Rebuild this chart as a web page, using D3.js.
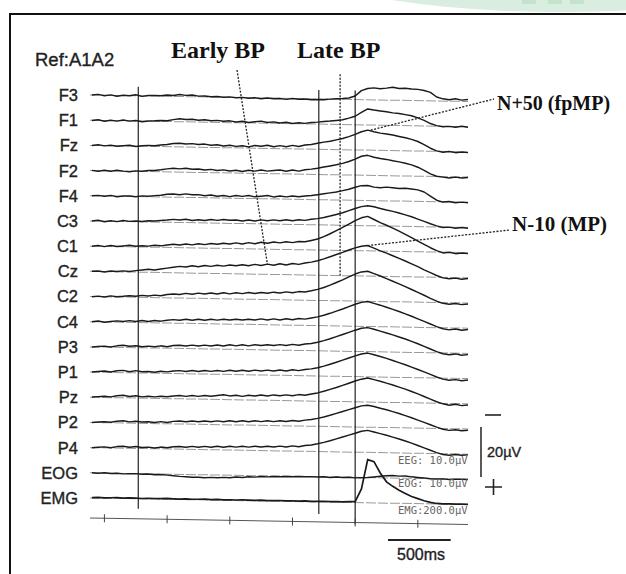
<!DOCTYPE html>
<html>
<head>
<meta charset="utf-8">
<title>MRCP</title>
<script src="https://cdn.jsdelivr.net/npm/d3@7"></script>
<style>
  body { margin: 0; background: #fff; }
  svg { display: block; }
  .lbl { font-family: "Liberation Sans", Arial, sans-serif; fill: #222; stroke: #222; stroke-width: 0.35; }
  .ann { font-family: "Liberation Serif", "Times New Roman", serif; font-weight: bold; fill: #111; }
  .gain { font-family: "DejaVu Sans Mono", monospace; fill: #666; }
</style>
</head>
<body>
<svg id="chart" width="626" height="574"></svg>
<script>
// channel order, top to bottom
var channels = ["F3","F1","Fz","F2","F4","C3","C1","Cz","C2","C4","P3","P1","Pz","P2","P4","EOG","EMG"];

// samples every 50 ms, -2100 .. 900 ms (0 = EMG onset)
var times = d3.range(-2100, 901, 50);

// EEG in uV, negative = up
var F3 = [0.0,-0.3,0.2,-0.2,0.3,-0.1,0.0,-0.4,0.2,-0.2,
  -0.3,-0.2,-0.5,-0.4,-0.8,-0.5,-0.7,-0.3,-0.4,-0.1,
  -0.3,0.0,-0.2,0.1,-0.1,0.2,0.0,0.3,0.0,0.2,
  0.1,0.4,0.0,0.3,0.1,0.4,0.2,0.3,0.0,-0.2,
  -0.3,-0.6,-1.4,-3.6,-4.5,-4.8,-4.5,-4.8,-5.2,-4.7,
  -4.9,-4.6,-4.5,-4.1,-3.4,-1.6,-0.9,-0.6,-1.0,-0.5,-0.8];
var F1 = [0.1,-0.2,0.3,-0.1,0.2,-0.3,0.1,-0.2,0.3,-0.1,
  -0.2,-0.4,-0.3,-0.8,-1.2,-0.9,-1.1,-0.7,-1.0,-0.6,
  -0.8,-0.5,-0.7,-0.3,-0.6,-0.2,-0.5,-0.8,-0.3,-0.6,
  -0.2,-0.5,-0.1,-0.4,-0.2,-0.6,-0.8,-1.1,-1.3,-1.6,
  -1.9,-2.6,-3.4,-5.0,-6.4,-6.0,-5.7,-5.4,-5.0,-4.8,
  -4.4,-4.0,-3.2,-2.2,-1.0,-0.2,0.2,0.0,0.3,-0.1,0.2];
var Fz = [0.0,-0.3,0.1,-0.2,0.2,-0.1,-0.3,0.1,-0.2,-0.4,
  -0.3,-0.6,-0.9,-1.3,-1.5,-1.2,-1.4,-1.1,-1.3,-0.9,
  -1.1,-0.7,-1.0,-0.6,-0.9,-0.5,-1.1,-0.8,-1.3,-0.7,
  -1.2,-0.8,-1.4,-1.0,-1.6,-1.9,-2.4,-2.9,-3.3,-3.9,
  -4.5,-5.3,-6.2,-7.3,-8.0,-7.4,-6.9,-6.6,-6.2,-5.7,
  -5.2,-4.6,-3.8,-2.6,-1.2,-0.2,0.3,0.0,0.4,0.1,0.3];
var F2 = [-0.1,0.2,-0.2,0.1,-0.3,0.0,0.2,-0.2,-0.1,-0.4,
  -0.5,-0.8,-1.2,-1.5,-1.3,-1.6,-1.2,-1.4,-1.0,-1.3,
  -0.9,-1.2,-0.8,-1.1,-0.7,-1.2,-0.9,-1.4,-1.0,-1.3,
  -1.5,-1.1,-1.6,-1.2,-1.8,-2.1,-2.5,-3.0,-3.5,-4.0,
  -4.6,-5.4,-6.4,-7.6,-8.0,-7.3,-6.8,-6.5,-6.0,-5.6,
  -5.1,-4.5,-3.6,-2.4,-1.0,-0.1,0.2,0.5,0.1,0.4,0.2];
var F4 = [0.0,-0.2,0.1,-0.3,0.2,-0.1,-0.2,0.1,-0.3,-0.2,
  -0.5,-0.7,-1.1,-1.3,-1.0,-1.4,-1.1,-1.2,-0.8,-1.1,
  -0.7,-1.0,-0.6,-1.1,-0.8,-1.2,-0.7,-1.0,-1.3,-0.8,
  -1.2,-0.9,-1.3,-1.0,-1.4,-1.6,-2.0,-2.4,-2.8,-3.2,
  -3.8,-4.4,-5.2,-5.9,-6.0,-5.4,-5.2,-5.5,-5.3,-5.0,
  -5.2,-4.9,-4.6,-3.8,-2.2,-0.6,0.1,-0.2,0.3,0.0,0.2];
var C3 = [0.0,-0.3,0.2,-0.2,0.1,-0.4,-0.1,-0.3,-0.1,-0.5,
  -0.4,-0.7,-0.9,-1.2,-1.0,-1.3,-0.9,-1.2,-1.0,-1.4,
  -1.1,-1.5,-1.2,-1.4,-1.0,-1.5,-1.1,-1.6,-1.3,-1.7,
  -1.4,-1.8,-1.5,-1.9,-1.7,-2.2,-2.5,-3.0,-3.6,-4.3,
  -5.0,-5.9,-6.8,-7.6,-8.0,-7.6,-7.0,-6.4,-5.9,-5.3,
  -4.6,-3.9,-3.0,-2.1,-1.2,-0.4,0.2,0.0,0.4,0.1,0.3];
var C1 = [0.0,-0.3,0.1,-0.4,0.0,-0.3,-0.6,-0.3,-0.5,-0.4,
  -0.8,-0.6,-1.0,-1.3,-1.1,-1.5,-1.2,-1.7,-1.4,-1.9,
  -1.6,-2.1,-1.8,-2.3,-1.9,-2.5,-2.1,-2.7,-2.4,-2.9,
  -2.6,-3.1,-2.8,-3.3,-3.2,-3.8,-4.4,-5.4,-6.6,-7.9,
  -9.2,-10.6,-12.0,-13.2,-13.8,-12.6,-11.4,-10.4,-9.3,-8.1,
  -6.9,-5.6,-4.3,-3.0,-1.7,-0.6,0.3,0.0,0.5,0.2,0.4];
var Cz = [0.0,-0.2,0.2,-0.3,-0.1,-0.4,-0.2,-0.6,-0.9,-1.2,
  -1.0,-1.4,-1.8,-2.2,-2.6,-2.4,-2.9,-2.6,-3.1,-2.8,
  -3.3,-3.0,-3.5,-3.2,-3.7,-3.3,-3.9,-3.5,-4.1,-3.7,
  -4.3,-3.9,-4.5,-4.2,-4.8,-5.2,-5.8,-6.6,-7.5,-8.4,
  -9.3,-10.3,-11.2,-11.9,-12.2,-11.2,-10.2,-9.3,-8.3,-7.3,
  -6.3,-5.2,-4.1,-2.9,-1.8,-0.7,0.2,0.5,0.2,0.6,0.3];
var C2 = [0.1,-0.2,0.1,-0.4,-0.1,-0.3,-0.6,-0.4,-0.8,-0.6,
  -1.0,-0.8,-1.3,-1.6,-1.4,-1.9,-1.6,-2.1,-1.8,-2.2,
  -1.9,-2.4,-2.0,-2.5,-2.2,-2.7,-2.3,-2.8,-2.5,-3.0,
  -2.7,-3.2,-2.9,-3.4,-3.3,-3.8,-4.4,-5.2,-6.2,-7.3,
  -8.4,-9.6,-10.8,-11.7,-12.0,-11.1,-10.2,-9.2,-8.2,-7.2,
  -6.1,-5.0,-3.9,-2.8,-1.6,-0.5,0.3,0.6,0.3,0.7,0.4];
var C4 = [0.0,-0.3,0.1,-0.2,-0.5,-0.3,-0.7,-0.4,-0.8,-0.5,
  -0.9,-0.7,-1.1,-1.4,-1.2,-1.6,-1.3,-1.7,-1.4,-1.8,
  -1.5,-1.9,-1.6,-2.0,-1.7,-2.1,-1.8,-2.3,-1.9,-2.4,
  -2.0,-2.5,-2.2,-2.7,-2.5,-3.0,-3.5,-4.2,-5.0,-5.9,
  -6.8,-7.8,-8.8,-9.6,-10.0,-9.3,-8.6,-7.8,-7.0,-6.2,
  -5.3,-4.4,-3.4,-2.4,-1.4,-0.4,0.4,0.8,0.4,0.9,0.5];
var P3 = [0.0,-0.2,-0.4,-0.1,-0.6,-0.9,-0.5,-0.8,-0.4,-0.7,
  -0.5,-0.9,-0.6,-1.1,-1.3,-1.0,-1.4,-1.1,-1.5,-1.2,
  -1.6,-1.3,-1.8,-1.4,-1.9,-1.5,-2.0,-1.7,-2.1,-1.8,
  -2.2,-1.9,-2.4,-2.1,-2.6,-2.9,-3.4,-4.1,-4.9,-5.8,
  -6.7,-7.6,-8.5,-9.3,-9.6,-9.0,-8.3,-7.6,-6.9,-6.1,
  -5.3,-4.4,-3.5,-2.5,-1.5,-0.5,0.3,0.7,0.3,0.8,0.5];
var P1 = [0.0,-0.3,-0.5,-0.2,-0.7,-0.9,-0.4,-0.9,-0.5,-0.6,
  -0.4,-0.8,-0.6,-1.0,-1.2,-0.9,-1.3,-1.0,-1.4,-1.1,
  -1.5,-1.2,-1.7,-1.3,-1.8,-1.4,-1.9,-1.6,-2.0,-1.7,
  -2.1,-1.8,-2.3,-2.0,-2.5,-2.8,-3.3,-4.0,-4.8,-5.6,
  -6.5,-7.4,-8.3,-9.1,-9.5,-8.9,-8.2,-7.5,-6.7,-5.9,
  -5.1,-4.2,-3.3,-2.4,-1.4,-0.4,0.4,0.8,0.5,0.9,0.6];
var Pz = [-0.1,-0.3,-0.5,-0.3,-0.8,-1.0,-0.6,-0.9,-0.5,-0.8,
  -0.6,-0.9,-0.7,-1.1,-1.3,-1.0,-1.4,-1.1,-1.5,-1.2,
  -1.6,-1.9,-1.5,-1.8,-1.4,-1.9,-1.6,-2.1,-1.7,-2.2,
  -1.9,-2.3,-2.0,-2.5,-2.3,-2.8,-3.3,-4.0,-4.8,-5.6,
  -6.5,-7.4,-8.3,-9.1,-9.6,-9.0,-8.4,-7.7,-7.0,-6.2,
  -5.4,-4.5,-3.6,-2.6,-1.6,-0.6,0.2,0.7,0.3,0.8,0.5];
var P2 = [0.0,-0.2,-0.4,-0.2,-0.7,-0.9,-0.5,-0.8,-0.5,-0.7,
  -0.4,-0.8,-0.5,-1.0,-1.2,-0.9,-1.3,-1.0,-1.4,-1.1,
  -1.5,-1.2,-1.6,-1.3,-1.7,-1.4,-1.8,-1.5,-1.9,-1.6,
  -2.0,-1.7,-2.2,-1.9,-2.4,-2.7,-3.2,-3.8,-4.5,-5.3,
  -6.1,-6.9,-7.7,-8.5,-8.8,-8.3,-7.7,-7.1,-6.4,-5.7,
  -4.9,-4.1,-3.2,-2.3,-1.4,-0.5,0.3,0.7,0.4,0.8,0.5];
var P4 = [0.0,-0.2,-0.4,-0.1,-0.6,-0.8,-0.4,-0.8,-0.4,-0.6,
  -0.3,-0.7,-0.5,-0.9,-1.1,-0.8,-1.2,-0.9,-1.3,-1.0,
  -1.4,-1.1,-1.5,-1.2,-1.6,-1.3,-1.7,-1.4,-1.8,-1.5,
  -1.9,-1.6,-2.1,-1.8,-2.3,-2.6,-3.1,-3.7,-4.4,-5.2,
  -6.0,-6.8,-7.6,-8.4,-8.8,-8.2,-7.6,-7.0,-6.3,-5.6,
  -4.8,-4.0,-3.1,-2.2,-1.3,-0.4,0.3,0.6,0.2,0.5,0.3];
var EOG = [0.0,0.1,-0.1,0.1,0.0,0.2,0.1,0.0,0.2,0.1,
  0.3,0.2,0.4,0.6,0.8,0.9,1.1,1.0,1.2,1.0,
  1.1,0.9,1.0,0.7,0.8,0.5,0.6,0.3,0.4,0.2,
  0.3,0.1,0.2,0.0,0.1,0.0,0.1,0.0,0.2,0.0,
  0.1,0.0,0.2,0.1,0.0,-0.3,-0.6,-0.9,-1.0,-0.8,
  -0.9,-0.6,-0.4,-0.2,0.0,0.1,0.0,0.2,0.1,0.0,0.1];
// rectified EMG in uV, drawn upward
var EMG = [4,6,3,5,7,4,6,5,3,6,
  5,4,7,5,3,6,4,5,7,4,
  6,3,5,4,6,5,3,6,4,5,
  6,4,5,3,6,4,5,6,4,5,
  3,6,8,110,345,330,240,170,135,105,
  80,56,40,24,12,4,2,3,1,2,1];

var eeg = {F3:F3,F1:F1,Fz:Fz,F2:F2,F4:F4,C3:C3,C1:C1,Cz:Cz,C2:C2,C4:C4,
           P3:P3,P1:P1,Pz:Pz,P2:P2,P4:P4,EOG:EOG};

var markerTimes = [-1730, -290, 0];      // solid vertical lines
var lateBPTime = -120;                   // dotted Late BP marker
var tickTimes = [-2000, -1500, -1000, -500, 0, 500];
var gainLabels = ["EEG: 10.0\u00b5V", "EOG: 10.0\u00b5V", "EMG:200.0\u00b5V"];

var svg = d3.select("#chart");

// faint logo ring in the corner
svg.append("ellipse").attr("cx", 560).attr("cy", -58).attr("rx", 300).attr("ry", 70)
  .attr("fill", "#d9eee0");
svg.append("ellipse").attr("cx", 575).attr("cy", -66).attr("rx", 270).attr("ry", 66)
  .attr("fill", "#fff");
svg.selectAll("rect.wm").data([522, 548, 570]).enter().append("rect")
  .attr("x", function(d){return d;}).attr("y", 0).attr("width", 14).attr("height", 4)
  .attr("fill", "#c3e3cd");

// frame
svg.append("path").attr("d", "M10,574V14H626").attr("fill", "none")
  .attr("stroke", "#111").attr("stroke-width", 2);

var x = d3.scaleLinear().domain([-2115, 900]).range([90, 468]);
var row = d3.scalePoint().domain(channels).range([95, 498]);
var amp = d3.scaleLinear().domain([0, 20]).range([0, 50]);      // EEG/EOG
var emgAmp = d3.scaleLinear().domain([0, 400]).range([0, -50]);  // EMG
var slope = 0.0172; // the scanned record is slightly tilted
function tilt(px) { return (px - 90) * slope; }

var plot = svg.append("g")
  .attr("transform", "translate(90,0) skewY(" + (Math.atan(slope) * 180 / Math.PI) + ") translate(-90,0)");

// channel baselines
plot.selectAll("line.base").data(channels).enter().append("line")
  .attr("x1", 90).attr("x2", 468)
  .attr("y1", function(d){return row(d);}).attr("y2", function(d){return row(d);})
  .attr("stroke", "#9a9a9a").attr("stroke-width", 1).attr("stroke-dasharray", "10,2");

// event markers
plot.selectAll("line.ev").data(markerTimes).enter().append("line")
  .attr("x1", function(d){return x(d);}).attr("x2", function(d){return x(d);})
  .attr("y1", 86).attr("y2", function(d, i){return [508, 510, 520][i];})
  .attr("stroke", "#222").attr("stroke-width", 1.2);

// bottom time axis
plot.append("line").attr("x1", 90).attr("x2", 468).attr("y1", 518).attr("y2", 518)
  .attr("stroke", "#555").attr("stroke-width", 1);
plot.selectAll("line.tick").data(tickTimes).enter().append("line")
  .attr("x1", function(d){return x(d);}).attr("x2", function(d){return x(d);})
  .attr("y1", 514).attr("y2", 522).attr("stroke", "#444").attr("stroke-width", 1);

// traces
var line = d3.line().x(function(d, i){return x(times[i]);});
channels.forEach(function(ch) {
  var base = row(ch);
  if (ch === "EMG") {
    line.y(function(d){return base + emgAmp(d);});
    plot.append("path").datum(EMG).attr("d", line)
      .attr("fill", "none").attr("stroke", "#1a1a1a").attr("stroke-width", 1.7);
  } else {
    line.y(function(d){return base + amp(d);});
    plot.append("path").datum(eeg[ch]).attr("d", line)
      .attr("fill", "none").attr("stroke", "#1a1a1a").attr("stroke-width", 1.45)
      .attr("stroke-linejoin", "round");
  }
});

// Late BP dotted marker
plot.append("line").attr("x1", x(lateBPTime)).attr("x2", x(lateBPTime))
  .attr("y1", 70).attr("y2", row("Cz"))
  .attr("stroke", "#222").attr("stroke-width", 1.3).attr("stroke-dasharray", "2,1.5");

// channel labels
svg.selectAll("text.ch").data(channels).enter().append("text")
  .attr("class", "lbl").attr("x", 78).attr("y", function(d){return row(d);})
  .attr("dy", "0.36em").attr("text-anchor", "end").attr("font-size", 16.5)
  .text(function(d){return d;});

svg.append("text").attr("class", "lbl").attr("x", 35).attr("y", 66)
  .attr("font-size", 18.5).text("Ref:A1A2");

// annotations
svg.append("text").attr("class", "ann").attr("x", 171).attr("y", 58)
  .attr("font-size", 24).text("Early BP");
svg.append("text").attr("class", "ann").attr("x", 297).attr("y", 58)
  .attr("font-size", 24).text("Late BP");
svg.append("text").attr("class", "ann").attr("x", 497).attr("y", 110)
  .attr("font-size", 20).text("N+50 (fpMP)");
svg.append("text").attr("class", "ann").attr("x", 512).attr("y", 231)
  .attr("font-size", 21).text("N-10 (MP)");

function traceY(ch, i) {
  var px = x(times[i]);
  return row(ch) + amp(eeg[ch][i]) + tilt(px);
}
var iEarly = times.indexOf(-700), iPeak = times.indexOf(100);
var pointers = [
  [237, 70, x(times[iEarly]), traceY("Cz", iEarly)],
  [x(times[iPeak]) + 3, traceY("Fz", iPeak), 494, 99],
  [x(times[iPeak]), traceY("Cz", iPeak), 510, 230]
];
svg.selectAll("line.ptr").data(pointers).enter().append("line")
  .attr("x1", function(d){return d[0];}).attr("y1", function(d){return d[1];})
  .attr("x2", function(d){return d[2];}).attr("y2", function(d){return d[3];})
  .attr("stroke", "#222").attr("stroke-width", 1.3).attr("stroke-dasharray", "2,1.5");

// gain stamps
svg.selectAll("text.gain").data(gainLabels).enter().append("text")
  .attr("class", "gain").attr("x", 398).attr("y", function(d, i){return [464, 487, 514][i];})
  .attr("font-size", 10.5).text(function(d){return d;});

// amplitude scale bar (20 uV)
var barTop = 427;
svg.append("line").attr("x1", 481).attr("x2", 481)
  .attr("y1", barTop).attr("y2", barTop + amp(20))
  .attr("stroke", "#222").attr("stroke-width", 1.5);
svg.append("line").attr("x1", 485).attr("x2", 501).attr("y1", 415).attr("y2", 415)
  .attr("stroke", "#222").attr("stroke-width", 1.6);
svg.append("path").attr("d", "M485,487H502M493.5,479V495")
  .attr("stroke", "#222").attr("stroke-width", 1.6).attr("fill", "none");
svg.append("text").attr("class", "lbl").attr("x", 487).attr("y", 457)
  .attr("font-size", 14.5).text("20\u00b5V");

// time scale bar (500 ms)
svg.append("line").attr("x1", 388).attr("x2", 388 + x(500) - x(0))
  .attr("y1", 540).attr("y2", 540).attr("stroke", "#222").attr("stroke-width", 2);
svg.append("text").attr("class", "lbl").attr("x", 421).attr("y", 560)
  .attr("text-anchor", "middle").attr("font-size", 16).text("500ms");
</script>
</body>
</html>
